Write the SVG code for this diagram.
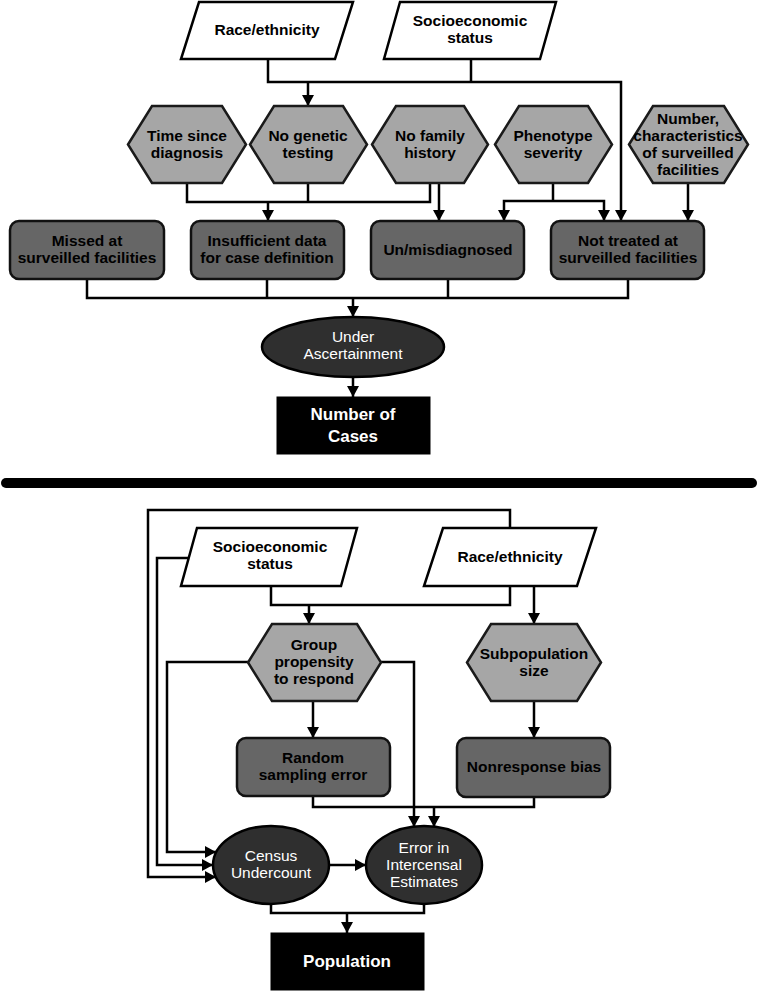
<svg xmlns="http://www.w3.org/2000/svg" width="758" height="991" viewBox="0 0 758 991">
<defs>
<marker id="ah" markerUnits="userSpaceOnUse" markerWidth="12" markerHeight="12" refX="11" refY="6" orient="auto">
<path d="M0,0 L11,6 L0,12 z" fill="#000"/>
</marker>
<style>
.para{fill:#fff;stroke:#000;stroke-width:2.5;stroke-linejoin:miter}
.hex{fill:#a6a6a6;stroke:#1a1a1a;stroke-width:2.5;stroke-linejoin:miter}
.box{fill:#666;stroke:#111;stroke-width:2.5}
.ell{fill:#2f2f2f;stroke:#000;stroke-width:2.5}
.blk{fill:#000;stroke:#000;stroke-width:1}
.t{font-family:"Liberation Sans",Arial,sans-serif;font-weight:bold;font-size:15.5px;fill:#000;text-anchor:middle}
.tw{font-family:"Liberation Sans",Arial,sans-serif;font-size:15.5px;fill:#fff;text-anchor:middle}
.tb{font-family:"Liberation Sans",Arial,sans-serif;font-weight:bold;font-size:17px;fill:#fff;text-anchor:middle}
.c{fill:none;stroke:#000;stroke-width:2.5}
.ca{fill:none;stroke:#000;stroke-width:2.5;marker-end:url(#ah)}
</style>
</defs>
<rect width="758" height="991" fill="#fff"/>

<g id="connectors">
<path class="ca" d="M268,59 V82 H621 V221"/>
<path class="c" d="M471,59 V82"/>
<path class="ca" d="M308,82 V106"/>
<path class="c" d="M187,183 V202 H430 V183"/>
<path class="c" d="M308,183 V202"/>
<path class="ca" d="M268,202 V221"/>
<path class="ca" d="M439,183 V221"/>
<path class="c" d="M553,183 V201"/>
<path class="ca" d="M553,201 H504 V221"/>
<path class="ca" d="M553,201 H604 V221"/>
<path class="ca" d="M688,183 V221"/>
<path class="c" d="M87,279 V298 H628 V279"/>
<path class="c" d="M267,279 V298"/>
<path class="c" d="M448,279 V298"/>
<path class="ca" d="M353,298 V317"/>
<path class="ca" d="M353,377 V397"/>
<path class="ca" d="M510,528 V510 H148 V877 H216"/>
<path class="ca" d="M189,558 H157 V865 H213"/>
<path class="ca" d="M248,662 H167 V852 H216"/>
<path class="ca" d="M381,662 H414 V827"/>
<path class="c" d="M271,586 V605 H510 V586"/>
<path class="ca" d="M309,605 V624"/>
<path class="ca" d="M534,586 V624"/>
<path class="ca" d="M313,701 V738"/>
<path class="ca" d="M534,701 V738"/>
<path class="c" d="M313,796 V807 H534 V797"/>
<path class="ca" d="M434,807 V827"/>
<path class="ca" d="M329,865 H366"/>
<path class="c" d="M271,904 V913 H424 V904"/>
<path class="ca" d="M347,913 V933"/>
</g>

<g id="divider">
<line x1="6" y1="483" x2="752" y2="483" stroke="#000" stroke-width="10" stroke-linecap="round"/>
</g>

<g id="race-top">
<polygon class="para" points="199,2 353,2 335,59 181,59"/>
<text class="t" x="267" y="35">Race/ethnicity</text>
</g>
<g id="ses-top">
<polygon class="para" points="400,2 556,2 540,59 384,59"/>
<text class="t" x="470" y="26">Socioeconomic</text>
<text class="t" x="470" y="43">status</text>
</g>

<g id="time-since-diagnosis">
<polygon class="hex" points="128,144.5 152,106 222,106 246,144.5 222,183 152,183"/>
<text class="t" x="187" y="141">Time since</text>
<text class="t" x="187" y="158">diagnosis</text>
</g>
<g id="no-genetic-testing">
<polygon class="hex" points="250,144.5 274,106 343,106 367,144.5 343,183 274,183"/>
<text class="t" x="308" y="141">No genetic</text>
<text class="t" x="308" y="158">testing</text>
</g>
<g id="no-family-history">
<polygon class="hex" points="372,144.5 396,106 464,106 488,144.5 464,183 396,183"/>
<text class="t" x="430" y="141">No family</text>
<text class="t" x="430" y="158">history</text>
</g>
<g id="phenotype-severity">
<polygon class="hex" points="495,144.5 519,106 588,106 612,144.5 588,183 519,183"/>
<text class="t" x="553" y="141">Phenotype</text>
<text class="t" x="553" y="158">severity</text>
</g>
<g id="surveilled-facilities">
<polygon class="hex" points="629,144.5 653,106 724,106 748,144.5 724,183 653,183"/>
<text class="t" x="688" y="124">Number,</text>
<text class="t" x="688" y="141">characteristics</text>
<text class="t" x="688" y="158">of surveilled</text>
<text class="t" x="688" y="175">facilities</text>
</g>

<g id="missed">
<rect class="box" x="10" y="221" width="154" height="58" rx="9"/>
<text class="t" x="87" y="246">Missed at</text>
<text class="t" x="87" y="263">surveilled facilities</text>
</g>
<g id="insufficient-data">
<rect class="box" x="191" y="221" width="153" height="58" rx="9"/>
<text class="t" x="267" y="246">Insufficient data</text>
<text class="t" x="267" y="263">for case definition</text>
</g>
<g id="misdiagnosed">
<rect class="box" x="371" y="221" width="153" height="58" rx="9"/>
<text class="t" x="448" y="255">Un/misdiagnosed</text>
</g>
<g id="not-treated">
<rect class="box" x="551" y="221" width="153" height="58" rx="9"/>
<text class="t" x="628" y="246">Not treated at</text>
<text class="t" x="628" y="263">surveilled facilities</text>
</g>

<g id="under-ascertainment">
<ellipse class="ell" cx="353" cy="347" rx="91" ry="30"/>
<text class="tw" x="353" y="342">Under</text>
<text class="tw" x="353" y="359">Ascertainment</text>
</g>
<g id="number-of-cases">
<rect class="blk" x="277" y="397" width="153" height="57"/>
<text class="tb" x="353" y="420">Number of</text>
<text class="tb" x="353" y="442">Cases</text>
</g>

<g id="ses-bottom">
<polygon class="para" points="197,528 357,528 341,586 181,586"/>
<text class="t" x="270" y="552">Socioeconomic</text>
<text class="t" x="270" y="569">status</text>
</g>
<g id="race-bottom">
<polygon class="para" points="443,528 596,528 577,586 424,586"/>
<text class="t" x="510" y="562">Race/ethnicity</text>
</g>

<g id="group-propensity">
<polygon class="hex" points="248,662.5 272,624 357,624 381,662.5 357,701 272,701"/>
<text class="t" x="314" y="650">Group</text>
<text class="t" x="314" y="667">propensity</text>
<text class="t" x="314" y="684">to respond</text>
</g>
<g id="subpopulation-size">
<polygon class="hex" points="467,662.5 491,624 577,624 601,662.5 577,701 491,701"/>
<text class="t" x="534" y="659">Subpopulation</text>
<text class="t" x="534" y="676">size</text>
</g>

<g id="random-sampling-error">
<rect class="box" x="237" y="738" width="153" height="58" rx="9"/>
<text class="t" x="313" y="763">Random</text>
<text class="t" x="313" y="780">sampling error</text>
</g>
<g id="nonresponse-bias">
<rect class="box" x="457" y="738" width="153" height="59" rx="9"/>
<text class="t" x="534" y="772">Nonresponse bias</text>
</g>

<g id="census-undercount">
<ellipse class="ell" cx="271" cy="865" rx="58" ry="39"/>
<text class="tw" x="271" y="861">Census</text>
<text class="tw" x="271" y="878">Undercount</text>
</g>
<g id="intercensal-error">
<ellipse class="ell" cx="424" cy="865" rx="58" ry="39"/>
<text class="tw" x="424" y="853">Error in</text>
<text class="tw" x="424" y="870">Intercensal</text>
<text class="tw" x="424" y="887">Estimates</text>
</g>
<g id="population">
<rect class="blk" x="271" y="933" width="153" height="57"/>
<text class="tb" x="347" y="967">Population</text>
</g>
</svg>
